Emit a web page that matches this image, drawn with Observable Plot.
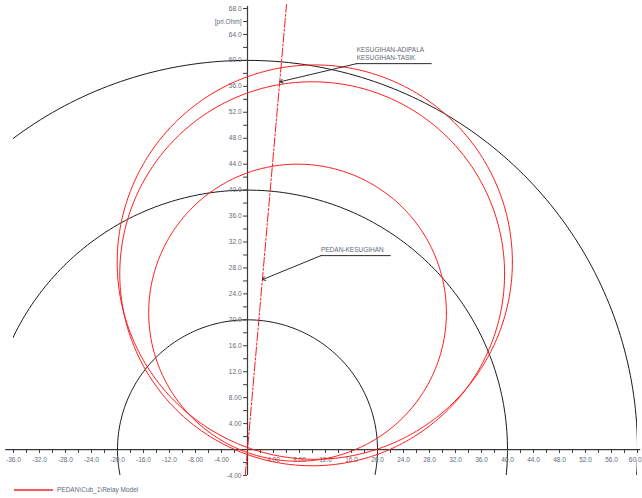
<!DOCTYPE html>
<html>
<head>
<meta charset="utf-8">
<script src="https://cdn.jsdelivr.net/npm/d3@7"></script>
<script src="https://cdn.jsdelivr.net/npm/@observablehq/plot@0.6"></script>
<style>
  html, body { margin: 0; padding: 0; background: #fff; }
  #wrap { position: relative; width: 642px; height: 498px; font-family: "Liberation Sans", Arial, sans-serif; }
  #legend { position: absolute; left: 0; top: 483px; width: 642px; height: 15px; }
  #legend svg { position: absolute; left: 0; top: 0; }
  #legend .lb { position: absolute; left: 57px; top: 3px; font-size: 6.5px; color: #5f6b78; white-space: nowrap; }
</style>
</head>
<body>
<div id="wrap"><div id="chart"></div><div id="legend"><svg width="60" height="15"><line x1="14" y1="7" x2="53" y2="7" stroke="#ff2020" stroke-width="1.3"/></svg><div class="lb">PEDAN\Cub_1\Relay Model</div></div></div>
<script>
// ---- data (R = x, X = y, primary ohms) ----
const refRadii = [20, 40, 60];                 // black reference circles (|Z|)
const relayCenterR = [7.7, 10.35, 9.95];       // red mho circles: centre R
const relayCenterX = [21.1, 28.9, 27.1];       // centre X
const relayRadius = [22.9, 30.4, 29.6];        // radius
const lineR = [-0.35, 6.0];                    // line impedance locus
const lineX = [-4.0, 68.6];
const annoText = ["KESUGIHAN-ADIPALA\nKESUGIHAN-TASIK", "PEDAN-KESUGIHAN"];
const annoPointR = [5.0, 2.3];
const annoPointX = [56.7, 26.2];
const annoElbowR = [16.8, 11.3];
const annoElbowX = [59.5, 29.9];
const annoEndR = [28.4, 22.1];
const xTickValues = [-36,-32,-28,-24,-20,-16,-12,-8,-4,4,8,12,16,20,24,28,32,36,40,44,48,52,56,60];
const xTickLabels = ["-36.0","-32.0","-28.0","-24.0","-20.0","-16.0","-12.0","-8.00","-4.00","4.00","8.00","12.0","16.0","20.0","24.0","28.0","32.0","36.0","40.0","44.0","48.0","52.0","56.0","60.0"];
const yTickValues = [-4,4,8,12,16,20,24,28,32,36,40,44,48,52,56,60,64,68];
const yTickLabels = ["-4.00","4.00","8.00","12.0","16.0","20.0","24.0","28.0","32.0","36.0","40.0","44.0","48.0","52.0","56.0","60.0","64.0","68.0"];
const unitLabel = "[pri.Ohm]";

// ---- build circle outlines from centre/radius ----
const steps = d3.range(0, 361, 1).map(a => a * Math.PI / 180);
const refPts = refRadii.flatMap((r, k) => steps.map(t => ({k, R: r * Math.cos(t), X: r * Math.sin(t)})));
const relayPts = relayRadius.flatMap((r, k) => steps.map(t => ({k, R: relayCenterR[k] + r * Math.cos(t), X: relayCenterX[k] + r * Math.sin(t)})));
const linePts = lineR.map((r, i) => ({R: r, X: lineX[i]}));
const minorX = d3.range(-36, 61, 2).filter(v => v !== 0);
const minorY = d3.range(-4, 69, 2).filter(v => v !== 0);
const anno = annoText.map((t, i) => ({t, pr: annoPointR[i], px: annoPointX[i], er: annoElbowR[i], ex: annoElbowX[i], endR: annoEndR[i]}));
const xLab = xTickValues.map((v, i) => ({v, t: xTickLabels[i], last: i === xTickValues.length - 1}));

const axisColor = "#3a3a3a";
const textColor = "#5f6b78";
const font = "Liberation Sans, Arial, sans-serif";

const chart = Plot.plot({
  width: 642,
  height: 483,
  marginLeft: 13,
  marginRight: 5,
  marginTop: 8,
  marginBottom: 8,
  x: {domain: [-36, 60], axis: null},
  y: {domain: [-4, 68], axis: null},
  style: {fontFamily: font, background: "#fff"},
  marks: [
    // reference circles
    Plot.line(refPts, {x: "R", y: "X", z: "k", stroke: "#1a1a1a", strokeWidth: 1, clip: true}),
    // axes
    Plot.ruleY([0], {x1: -37.2, x2: 60.5, stroke: axisColor, strokeWidth: 1.2}),
    Plot.ruleX([0], {y1: -4, y2: 68.3, stroke: axisColor, strokeWidth: 1.2}),
    Plot.ruleX(minorX, {x: d => d, y1: 0, y2: -0.6, stroke: axisColor, strokeWidth: 1}),
    Plot.ruleY(minorY, {y: d => d, x1: -0.6, x2: 0, stroke: axisColor, strokeWidth: 1}),
    Plot.text(xLab.filter(d => !d.last), {x: "v", y: 0, dy: 10, text: "t", fontSize: 6.5, fill: textColor, textAnchor: "middle"}),
    Plot.text(xLab.filter(d => d.last), {x: "v", y: 0, dy: 10, dx: 4, text: "t", fontSize: 6.5, fill: textColor, textAnchor: "end"}),
    Plot.text(yTickValues, {x: 0, y: d => d, dx: -6, text: (d, i) => yTickLabels[i], fontSize: 6.5, fill: textColor, textAnchor: "end"}),
    Plot.text([unitLabel], {x: 0, y: 66, dx: -6, text: d => d, fontSize: 6.5, fill: textColor, textAnchor: "end"}),
    // relay characteristics
    Plot.line(relayPts, {x: "R", y: "X", z: "k", stroke: "#ff1a1a", strokeWidth: 1, clip: true}),
    // line impedance
    Plot.line(linePts, {x: "R", y: "X", stroke: "#ff1a1a", strokeWidth: 1, strokeDasharray: "9,2,2,2"}),
    // annotations
    Plot.arrow(anno, {x1: "er", y1: "ex", x2: "pr", y2: "px", stroke: "#2a2a2a", strokeWidth: 1, headLength: 5, headAngle: 70}),
    Plot.ruleY(anno, {y: "ex", x1: "er", x2: "endR", stroke: "#2a2a2a", strokeWidth: 1}),
    Plot.text(anno, {x: "er", y: "ex", text: "t", dy: -4, dx: 0, textAnchor: "start", lineAnchor: "bottom", lineHeight: 1.15, fontSize: 6.5, fill: textColor})
  ]
});
document.getElementById("chart").appendChild(chart);
</script>
</body>
</html>
